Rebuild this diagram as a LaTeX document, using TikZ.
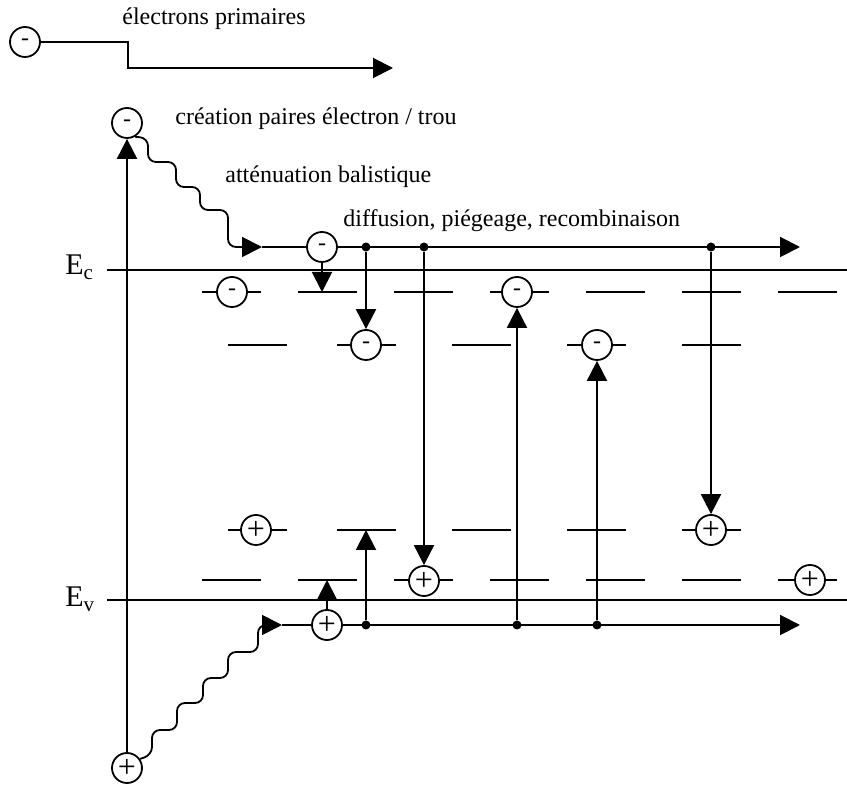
\documentclass[tikz,border=0pt]{standalone}
\usepackage{fontspec}
\setmainfont{Liberation Serif}
\usetikzlibrary{arrows.meta}

\begin{document}
\begin{tikzpicture}[
    x=0.5pt, y=-0.5pt,
    >={Triangle[length=10pt,width=10pt]},
    every node/.style={font=\fontsize{12}{14}\selectfont},
    band/.style={line width=1pt},
    level/.style={line width=1pt},
    arrow/.style={->,line width=1pt},
    wave/.style={->,line width=0.9pt,rounded corners=4pt},
    charge/.style={circle,draw,fill=white,line width=0.9pt,minimum size=15pt,inner sep=0pt},
    minus/.style={charge,font=\fontsize{12}{12}\selectfont},
    plus/.style={charge,font=\fontsize{16}{16}\selectfont},
    dot/.style={circle,fill=black,minimum size=4.5pt,inner sep=0pt},
    label/.style={anchor=base west,inner sep=0pt},
]
\useasboundingbox (0,0) rectangle (847,785);

% Primary electrons
\node[minus] (prim) at (25,42) {-};
\node[label] (primlabel) at (122,25) {électrons primaires};
\coordinate (p1) at (128,42);
\coordinate (p2) at (393,68);
\draw[arrow] (prim) -- (p1) |- (p2);

% Band edges
\coordinate (ec0) at (107,270);
\coordinate (ec1) at (847,270);
\coordinate (ev0) at (107,600);
\coordinate (ev1) at (847,600);
\draw[band] (ec0) -- (ec1);
\draw[band] (ev0) -- (ev1);
\node[label,font=\fontsize{15}{15}\selectfont] (eclabel) at (65,275) {E\textsubscript{c}};
\node[label,font=\fontsize{15}{15}\selectfont] (evlabel) at (65,607) {E\textsubscript{v}};

% Trap levels
\foreach \x in {202,298,394,490,586,682,778} {
    \draw[level] (\x,292) -- ++(59,0);
    \draw[level] (\x,580) -- ++(59,0);
}
\foreach \x in {228,337,452,567,682} {
    \draw[level] (\x,345) -- ++(59,0);
    \draw[level] (\x,530) -- ++(59,0);
}

% Transport lines
\coordinate (cb0) at (262,247);
\coordinate (cb1) at (800,247);
\coordinate (vb0) at (282,625);
\coordinate (vb1) at (800,625);
\draw[arrow] (cb0) -- (cb1);
\draw[arrow] (vb0) -- (vb1);

% Pair creation
\node[minus] (top) at (127,123) {-};
\node[plus] (bot) at (127,768) {+};
\draw[arrow] (bot) -- (top);
\node[label] (pairlabel) at (175,125) {création paires électron / trou};
\node[label] (attlabel) at (225,183) {atténuation balistique};
\node[label] (difflabel) at (343,227) {diffusion, piégeage, recombinaison};

% Ballistic attenuation
\draw[wave] (top.-60) -- (148,138) -- (148,162) -- (176,162) -- (176,187)
    -- (200,187) -- (200,210) -- (228,210) -- (228,247) -- (cb0);
\draw[wave] (bot.35) -- (152,755) -- (152,730) -- (177,730) -- (177,703)
    -- (203,703) -- (203,678) -- (228,678) -- (228,652) -- (258,652)
    -- (258,625) -- (vb0);

% Carriers
\node[minus] (cm1) at (322,247) {-};
\node[plus] (cp1) at (327,625) {+};
\node[minus] (ma1) at (232,292) {-};
\node[minus] (ma2) at (517,292) {-};
\node[minus] (mb1) at (366,345) {-};
\node[minus] (mb2) at (597,345) {-};
\node[plus] (pc1) at (256,530) {+};
\node[plus] (pc2) at (711,530) {+};
\node[plus] (pd1) at (424,581) {+};
\node[plus] (pd2) at (810,580) {+};

% Branch points
\node[dot] (d1) at (366,247) {};
\node[dot] (d2) at (424,247) {};
\node[dot] (d3) at (711,247) {};
\node[dot] (d4) at (366,625) {};
\node[dot] (d5) at (517,625) {};
\node[dot] (d6) at (597,625) {};

% Trapping and recombination
\coordinate (ta1) at (322,292);
\coordinate (td1) at (327,580);
\coordinate (tc1) at (366,530);
\draw[arrow] (cm1) -- (ta1);
\draw[arrow] (d1) -- (mb1);
\draw[arrow] (d2) -- (pd1);
\draw[arrow] (d3) -- (pc2);
\draw[arrow] (cp1) -- (td1);
\draw[arrow] (d4) -- (tc1);
\draw[arrow] (d5) -- (ma2);
\draw[arrow] (d6) -- (mb2);

\end{tikzpicture}
\end{document}
